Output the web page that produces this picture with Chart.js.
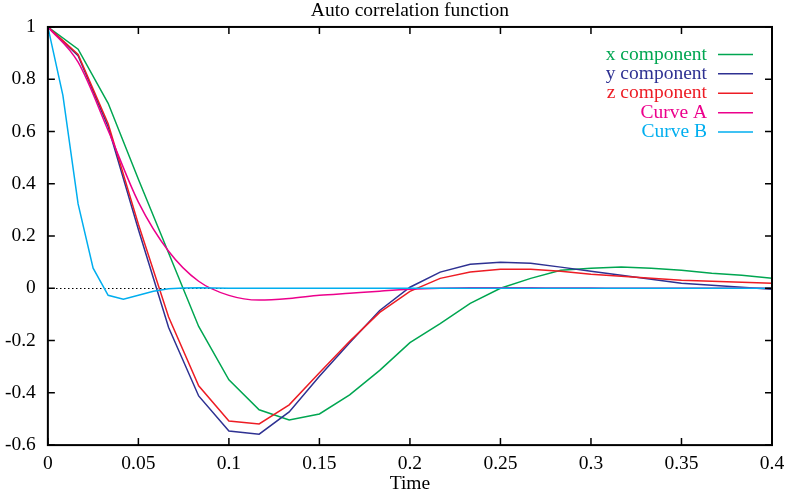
<!DOCTYPE html>
<html>
<head>
<meta charset="utf-8">
<script src="https://cdn.jsdelivr.net/npm/chart.js@4/dist/chart.umd.min.js"></script>
<style>
  body { margin: 0; background: #fff; }
  #wrap { width: 786px; height: 496px; }
</style>
</head>
<body>
<div id="wrap"><canvas id="acf" width="786" height="496"></canvas></div>
<script>
// sample times (step 1/60) for the three components and curve A
var times = [0, 0.0167, 0.0333, 0.05, 0.0667, 0.0833, 0.1, 0.1167, 0.1333, 0.15, 0.1667, 0.1833, 0.2,
  0.2167, 0.2333, 0.25, 0.2667, 0.2833, 0.3, 0.3167, 0.3333, 0.35, 0.3667, 0.3833, 0.4];

var xComp = [1, 0.915, 0.708, 0.417, 0.135, -0.146, -0.35, -0.465, -0.504, -0.481, -0.408, -0.314, -0.208,
  -0.135, -0.058, 0.0, 0.038, 0.069, 0.077, 0.081, 0.077, 0.069, 0.058, 0.05, 0.038];
var yComp = [1, 0.89, 0.618, 0.225, -0.15, -0.412, -0.546, -0.558, -0.473, -0.337, -0.208, -0.085, 0.004,
  0.062, 0.092, 0.1, 0.096, 0.081, 0.065, 0.05, 0.035, 0.019, 0.012, 0.004, -0.004];
var zComp = [1, 0.895, 0.63, 0.245, -0.11, -0.373, -0.508, -0.519, -0.446, -0.323, -0.203, -0.092, -0.012,
  0.038, 0.062, 0.073, 0.073, 0.065, 0.054, 0.046, 0.038, 0.031, 0.027, 0.023, 0.019];
var curveA = [1, 0.865, 0.604, 0.33, 0.142, 0.027, -0.027, -0.045, -0.039, -0.027, -0.019, -0.011, -0.004,
  0.0, 0.002, 0.002, 0.002, 0.001, 0.001, 0, 0, 0, 0, 0, 0];

// curve B is sampled finer near the start
var timesB = [0, 0.0083, 0.0167, 0.025, 0.0333, 0.0417, 0.05, 0.0583, 0.0667, 0.075, 0.0833, 0.0917, 0.1,
  0.15, 0.2, 0.25, 0.3, 0.35, 0.4];
var curveB = [1, 0.738, 0.323, 0.077, -0.027, -0.042, -0.027, -0.011, -0.002, 0.001, 0.002, 0.001, 0,
  0, 0, 0, 0, 0, 0];

var xTicks = [0, 0.05, 0.1, 0.15, 0.2, 0.25, 0.3, 0.35, 0.4];
var yTicks = [-0.6, -0.4, -0.2, 0, 0.2, 0.4, 0.6, 0.8, 1];

var FONT = 'Liberation Serif';

function pts(tt, vv) {
  return tt.map(function (t, i) { return { x: t, y: vv[i] }; });
}

function line(label, tt, vv, color, order, extra) {
  var d = {
    label: label,
    data: pts(tt, vv),
    borderColor: color,
    backgroundColor: color,
    borderWidth: 1.5,
    pointRadius: 0,
    fill: false,
    tension: 0,
    order: order
  };
  if (extra) Object.assign(d, extra);
  return d;
}

// frame, inward ticks (gnuplot look) and the legend at top right
var framePlugin = {
  id: 'frame',
  afterDatasetsDraw: function (chart) {
    var ctx = chart.ctx, a = chart.chartArea;
    var xs = chart.scales.x, ys = chart.scales.y;
    ctx.save();
    ctx.strokeStyle = '#000';
    ctx.lineWidth = 1.5;
    ctx.beginPath();
    xTicks.forEach(function (v) {
      var px = xs.getPixelForValue(v);
      ctx.moveTo(px, a.bottom); ctx.lineTo(px, a.bottom - 7);
      ctx.moveTo(px, a.top); ctx.lineTo(px, a.top + 7);
    });
    yTicks.forEach(function (v) {
      var py = ys.getPixelForValue(v);
      ctx.moveTo(a.left, py); ctx.lineTo(a.left + 7, py);
      ctx.moveTo(a.right, py); ctx.lineTo(a.right - 7, py);
    });
    ctx.stroke();
    ctx.lineWidth = 2;
    ctx.strokeRect(a.left, a.top, a.right - a.left, a.bottom - a.top);

    ctx.font = '19.5px "' + FONT + '"';
    ctx.textAlign = 'right';
    ctx.textBaseline = 'middle';
    chart.data.datasets.forEach(function (ds, i) {
      var ly = a.top + 27.5 + i * 19.4;
      ctx.fillStyle = ds.borderColor;
      ctx.fillText(ds.label, a.right - 65, ly);
      ctx.strokeStyle = ds.borderColor;
      ctx.lineWidth = 1.5;
      ctx.beginPath();
      ctx.moveTo(a.right - 54, ly);
      ctx.lineTo(a.right - 19, ly);
      ctx.stroke();
    });
    ctx.restore();
  }
};

function fmt(v) { return String(+Number(v).toFixed(2)); }

new Chart(document.getElementById('acf').getContext('2d'), {
  type: 'line',
  data: {
    datasets: [
      line('x component', times, xComp, '#00a651', 5),
      line('y component', times, yComp, '#2e3192', 4),
      line('z component', times, zComp, '#ed1c24', 3),
      line('Curve A', times, curveA, '#ec008c', 2, { cubicInterpolationMode: 'monotone' }),
      line('Curve B', timesB, curveB, '#00aeef', 1)
    ]
  },
  options: {
    responsive: false,
    animation: false,
    layout: { padding: { left: -7, right: 14, top: 0, bottom: 0 } },
    plugins: {
      legend: { display: false },
      tooltip: { enabled: false },
      title: {
        display: true,
        text: 'Auto correlation function',
        fullSize: false,
        color: '#000',
        font: { family: FONT, size: 19.5, weight: 'normal', lineHeight: 1.1 },
        padding: { top: 0, bottom: 5.5 }
      }
    },
    scales: {
      x: {
        type: 'linear',
        min: 0,
        max: 0.4,
        afterBuildTicks: function (s) { s.ticks = xTicks.map(function (v) { return { value: v }; }); },
        afterFit: function (s) { s.paddingRight = 0; },
        grid: { display: false, drawTicks: false },
        border: { display: false },
        ticks: {
          color: '#000',
          padding: 7,
          maxRotation: 0,
          font: { family: FONT, size: 19.5 },
          callback: fmt
        },
        title: {
          display: true,
          text: 'Time',
          color: '#000',
          font: { family: FONT, size: 19.5, lineHeight: 1 },
          padding: { top: -8, bottom: 2 }
        }
      },
      y: {
        type: 'linear',
        min: -0.6,
        max: 1,
        afterBuildTicks: function (s) { s.ticks = yTicks.map(function (v) { return { value: v }; }); },
        grid: {
          drawTicks: false,
          lineWidth: 1,
          color: function (c) { return c.tick && c.tick.value === 0 ? '#000' : 'rgba(0,0,0,0)'; }
        },
        border: { display: false, dash: [1.5, 2.5] },
        ticks: {
          color: '#000',
          padding: 12,
          font: { family: FONT, size: 19.5 },
          callback: fmt
        }
      }
    }
  },
  plugins: [framePlugin]
});
</script>
</body>
</html>
